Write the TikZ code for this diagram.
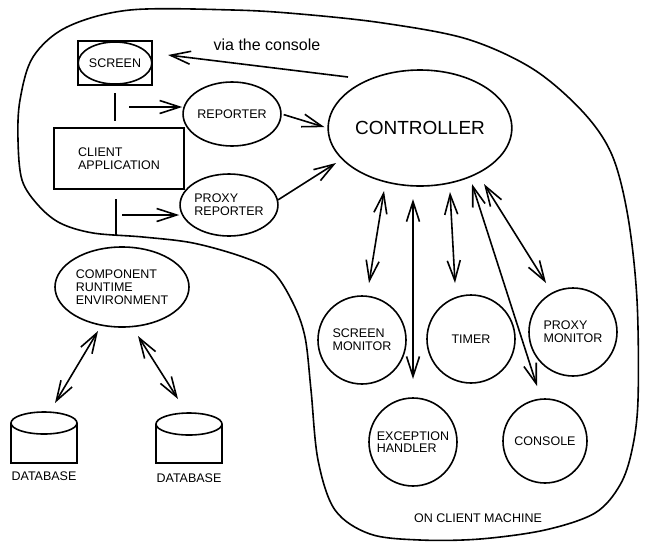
\documentclass[tikz,border=0pt]{standalone}
\usepackage{fontspec}
\setmainfont{Liberation Sans}
\usetikzlibrary{shapes.geometric,arrows.meta}
\begin{document}
\begin{tikzpicture}[x=1pt,y=-1pt, line width=1.6pt,
  small/.style={font=\fontsize{12.5}{12.7}\selectfont},
  ell/.style={draw, ellipse, inner sep=0pt, small, align=left},
  circ/.style={draw, circle, inner sep=0pt, small, align=left},
  box/.style={draw, rectangle, inner sep=0pt, small, align=left},
  tip/.tip={Straight Barb[length=20pt,width=13pt]},
  arr/.style={-tip},
  darr/.style={tip-tip},
]
\useasboundingbox (0,0) rectangle (645,542);

% outer boundary
\draw plot[smooth cycle, tension=0.55] coordinates {
 (130,10) (233,10) (300,14) (383,23) (467,39) (533,69) (583,112) (612,155)
 (628,217) (637,300) (638,400) (632,450) (620,485) (595,513) (545,530)
 (480,539) (420,540) (370,534) (335,510) (318,460) (311,390) (305,337)
 (293,303) (273,272) (243,257) (193,243) (143,237) (93,233) (60,223)
 (38,205) (22,180) (18,140) (20,100) (33,57) (67,27)};

% nodes
\node[box, minimum width=74pt, minimum height=44pt] (screenbox) at (115,63) {};
\node[ell, minimum width=72pt, minimum height=42pt] (screen) at (115,63) {SCREEN};
\node[ell, minimum width=82pt, minimum height=64pt] (reporter) at (232,114) {REPORTER};
\node[box, minimum width=130pt, minimum height=61pt] (client) at (119,158.5) {CLIENT\\APPLICATION};
\node[ell, minimum width=88pt, minimum height=62pt] (proxy) at (229,205) {PROXY\\REPORTER};
\node[ell, minimum width=176pt, minimum height=116pt, font=\fontsize{19}{22}\selectfont] (ctrl) at (420,128) {CONTROLLER};
\node[ell, minimum width=134pt, minimum height=80pt] (cre) at (122,287) {COMPONENT\\RUNTIME\\ENVIRONMENT};

\node[circ, minimum size=88pt] (smon) at (362,340) {SCREEN\\MONITOR};
\node[circ, minimum size=88pt] (timer) at (471,339) {TIMER};
\node[circ, minimum size=88pt] (pmon) at (573,332) {PROXY\\MONITOR};
\node[circ, minimum size=88pt] (exc) at (413,442) {EXCEPTION\\HANDLER};
\node[circ, minimum size=84pt] (cons) at (545,441) {CONSOLE};

\node[font=\fontsize{16}{18}\selectfont] (via) at (267,45) {via the console};
\node[small] (onclient) at (478,518) {ON CLIENT MACHINE};

% databases
\draw (11,423) -- (11,463) -- (77,463) -- (77,423);
\draw[fill=white] (44,423) ellipse [x radius=33, y radius=11];
\node[small] (db1) at (44,476) {DATABASE};
\draw (156,424) -- (156,463) -- (222,463) -- (222,424);
\draw[fill=white] (189,424) ellipse [x radius=33, y radius=11];
\node[small] (db2) at (189,478) {DATABASE};

% coordinates for free ends
\coordinate (sl1) at (115,93);  \coordinate (sl2) at (115,121);
\coordinate (cl1) at (116,199); \coordinate (cl2) at (116,235);
\coordinate (a1) at (129,107);
\coordinate (a2) at (122,215);
\coordinate (p2c) at (336,163);
\coordinate (v1) at (348,77);   \coordinate (v2) at (168,55);
\coordinate (c1a) at (384,191); \coordinate (c1b) at (369,283);
\coordinate (c2a) at (413,199); \coordinate (c2b) at (413,379);
\coordinate (c3a) at (450,192); \coordinate (c3b) at (455,283);
\coordinate (c4a) at (472,184); \coordinate (c4b) at (537,386);
\coordinate (c5a) at (484,184); \coordinate (c5b) at (546,283);
\coordinate (d1a) at (98,331);  \coordinate (d1b) at (55,403);
\coordinate (d2a) at (138,336); \coordinate (d2b) at (178,399);

% connectors
\draw (sl1) -- (sl2);
\draw (cl1) -- (cl2);
\draw[arr] (a1) -- (a1 -| reporter.west);
\draw[arr] (a2) -- (a2 -| proxy.west);
\draw[arr, shorten <=2pt, shorten >=3pt] (reporter.east) -- (ctrl.west);
\draw[arr] (proxy.6) -- (p2c);
\draw[arr] (v1) -- (v2);
\draw[darr] (c1a) -- (c1b);
\draw[darr] (c2a) -- (c2b);
\draw[darr] (c3a) -- (c3b);
\draw[darr] (c4a) -- (c4b);
\draw[darr] (c5a) -- (c5b);
\draw[darr] (d1a) -- (d1b);
\draw[darr] (d2a) -- (d2b);
\end{tikzpicture}
\end{document}
